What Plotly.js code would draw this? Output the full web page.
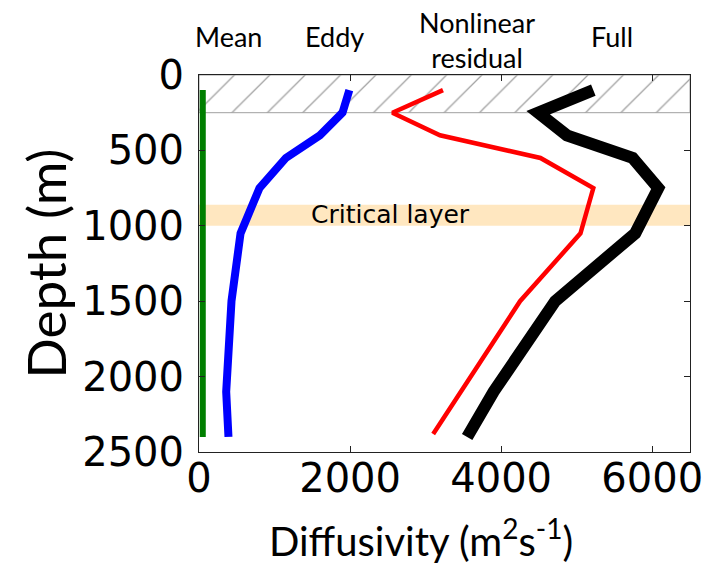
<!DOCTYPE html>
<html>
<head>
<meta charset="utf-8">
<script src="https://cdn.plot.ly/plotly-3.0.1.min.js"></script>
<style>html,body{margin:0;padding:0;background:#fff;}#chart{width:728px;height:566px;}</style>
</head>
<body>
<div id="chart"></div>
<script>
// Depth levels (m)
const depth = [100, 250, 400, 550, 750, 1050, 1500, 2100, 2400];
// Diffusivity (m^2 s^-1)
const meanDiff = [50, 50, 50, 50, 50, 50, 50, 50, 50];
const eddyDiff = [1990, 1900, 1600, 1150, 800, 550, 430, 360, 390];
const nonlinearDepth = [100, 250, 400, 550, 750, 1050, 1500, 1870, 2380];
const nonlinearDiff = [3230, 2560, 3190, 4520, 5220, 5050, 4250, 3770, 3100];
const fullDiff = [5220, 4490, 4870, 5740, 6080, 5775, 4715, 3900, 3550];

const seriesNames = ["Mean", "Eddy", "Nonlinear<br>residual", "Full"];
const labelX = [384, 1788, 3682, 5470];

const hatchDepth = [0, 250];     // upper layer shown hatched
const criticalLayer = [860, 1000];
const xRange = [0, 6500];
const yTicks = [0, 500, 1000, 1500, 2000, 2500];
const xTicks = [0, 2000, 4000, 6000];

const traces = [
  {
    x: [xRange[0], xRange[1], xRange[1], xRange[0], xRange[0]],
    y: [hatchDepth[0], hatchDepth[0], hatchDepth[1], hatchDepth[1], hatchDepth[0]],
    mode: 'lines', fill: 'toself', fillcolor: 'rgba(0,0,0,0)',
    fillpattern: {shape: '/', fgcolor: '#a0a0a0', bgcolor: 'rgba(0,0,0,0)', size: 25, solidity: 0.05},
    line: {color: '#a0a0a0', width: 1}, hoverinfo: 'skip', showlegend: false
  },
  {x: meanDiff, y: depth, mode: 'lines', line: {color: '#007f00', width: 6}, showlegend: false},
  {x: eddyDiff, y: depth, mode: 'lines', line: {color: '#0000ff', width: 8}, showlegend: false},
  {x: nonlinearDiff, y: nonlinearDepth, mode: 'lines', line: {color: '#ff0000', width: 4.5}, showlegend: false},
  {x: fullDiff, y: depth, mode: 'lines', line: {color: '#000000', width: 12}, showlegend: false}
];

const annotations = seriesNames.map((n, i) => ({
  text: n, xref: 'x', yref: 'paper', x: labelX[i], y: i === 2 ? 1.093 : 1.103,
  xanchor: 'center', yanchor: 'middle', showarrow: false,
  font: {family: 'Lato, "Open Sans", sans-serif', size: 27, color: '#000'}
}));
annotations.push({
  text: 'Critical layer', xref: 'x', yref: 'y', x: 2530, y: 928,
  xanchor: 'center', yanchor: 'middle', showarrow: false,
  font: {family: '"DejaVu Sans", sans-serif', size: 25, color: '#000'}
});
annotations.push({
  text: 'Diffusivity (m<sup>2</sup>s<sup>-1</sup>)', xref: 'paper', yref: 'paper',
  x: 0.452, y: -0.228, xanchor: 'center', yanchor: 'middle', showarrow: false,
  font: {family: 'Lato, "Open Sans", sans-serif', size: 40, color: '#000'}
});
annotations.push({
  text: 'Depth (m)', xref: 'paper', yref: 'paper', textangle: -90,
  x: -0.3136, y: 0.5, xanchor: 'center', yanchor: 'middle', showarrow: false,
  font: {family: 'Lato, "Open Sans", sans-serif', size: 53, color: '#000'}
});

const layout = {
  width: 728, height: 566,
  margin: {l: 199, r: 38, t: 75, b: 114},
  paper_bgcolor: '#fff', plot_bgcolor: '#fff',
  showlegend: false,
  xaxis: {
    range: xRange, tickvals: xTicks, ticktext: xTicks.map(String),
    showgrid: false, zeroline: false, showline: true, linecolor: '#222', linewidth: 1,
    mirror: 'ticks', ticks: 'inside', ticklen: 6, tickcolor: '#222',
    ticklabelstandoff: -9,
    tickfont: {family: '"DejaVu Sans", sans-serif', size: 40, color: '#000'}
  },
  yaxis: {
    range: [2500, 0], tickvals: yTicks, ticktext: yTicks.map(String),
    showgrid: false, zeroline: false, showline: true, linecolor: '#222', linewidth: 1,
    mirror: 'ticks', ticks: 'inside', ticklen: 6, tickcolor: '#222',
    ticklabelstandoff: 6,
    tickfont: {family: '"DejaVu Sans", sans-serif', size: 40, color: '#000'}
  },
  shapes: [{
    type: 'rect', xref: 'paper', yref: 'y', x0: 0, x1: 1,
    y0: criticalLayer[0], y1: criticalLayer[1],
    fillcolor: '#ffe7c0', line: {width: 0}, layer: 'below'
  }],
  annotations: annotations
};

Plotly.newPlot('chart', traces, layout, {displayModeBar: false, staticPlot: true});
</script>
</body>
</html>
